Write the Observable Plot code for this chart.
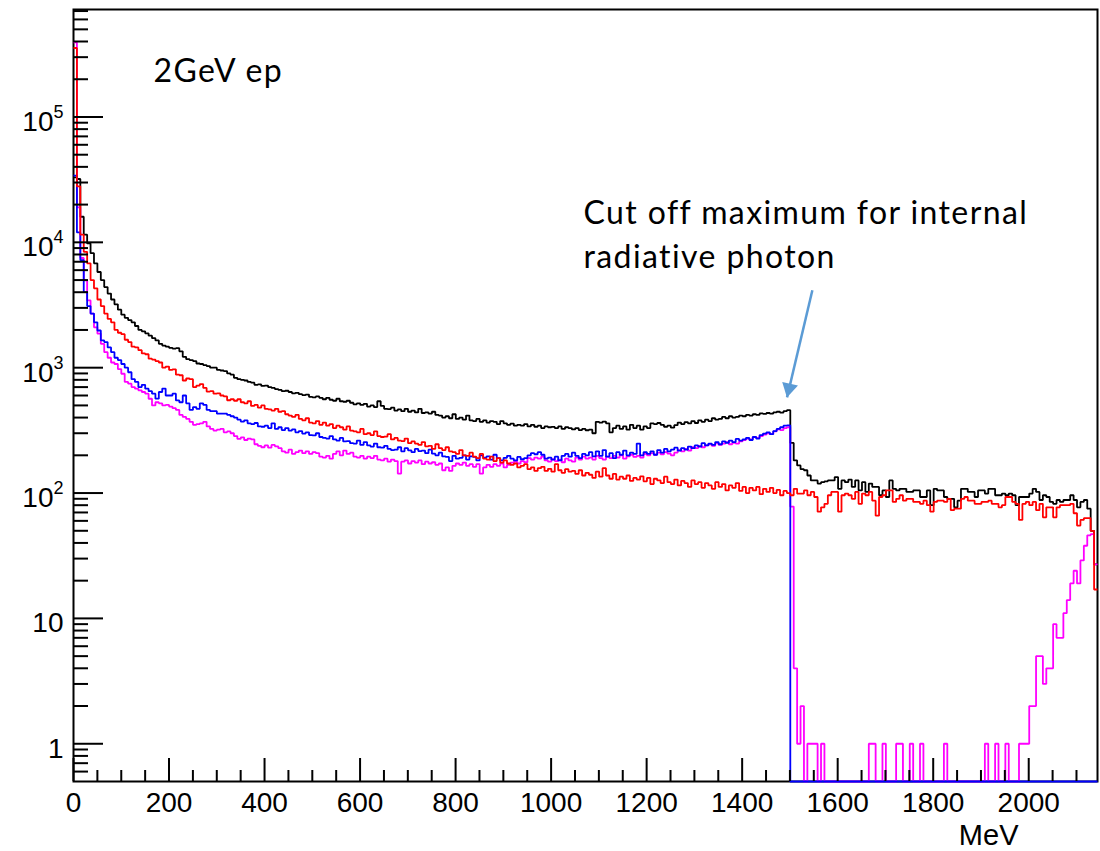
<!DOCTYPE html>
<html>
<head>
<meta charset="utf-8">
<script src="https://cdn.jsdelivr.net/npm/d3@7"></script>
<script src="https://cdn.jsdelivr.net/npm/@observablehq/plot@0.6"></script>
<style>
  html, body { margin: 0; padding: 0; background: #fff; }
  #chart svg { display: block; }
</style>
</head>
<body>
<div id="chart"></div>
<script>
// ---- axis ranges and binning (MeV, counts) ----
const xRange = [0, 2144];
const yRange = [0.5, 7.2e5];
const nBins = 300;

// ---- histogram contents, one value per bin ----
const blackCounts = [
33000,32000,16000,11500,9800,8200,6800,5800,5000,4400,
3900,3500,3200,2900,2650,2500,2400,2300,2150,2000,
1950,1880,1800,1720,1650,1550,1500,1470,1440,1420,
1430,1350,1220,1170,1150,1130,1080,1070,1050,1030,
1000,1000,960,950,940,900,880,830,810,800,
790,770,760,730,735,715,720,700,690,675,
665,650,655,640,625,630,615,605,610,585,
580,590,575,560,575,555,545,565,540,535,
545,525,510,520,505,515,490,500,485,540,
495,470,468,480,455,465,450,470,445,455,
440,470,435,440,430,445,420,415,400,410,
395,425,390,400,385,415,380,375,390,370,
380,365,375,370,355,375,360,350,358,345,
350,345,355,340,350,338,345,330,340,335,
337,330,340,325,335,330,322,330,318,325,
317,320,300,370,365,372,360,305,330,345,
325,340,320,350,330,345,320,340,330,360,
355,362,350,338,345,332,348,365,355,368,
360,375,362,380,370,385,375,395,385,390,
405,395,410,400,405,415,410,420,415,425,
420,432,428,435,430,440,445,438,450,458,
251,182,166,155,152,138,126,126,119,122,
124,126,126,134,108,126,122,128,112,126,
105,122,102,119,112,112,96,105,93,126,
108,105,108,108,102,102,105,105,93,93,
105,80,108,105,105,93,90,90,77,87,
108,108,102,102,93,105,105,99,108,108,
96,96,99,96,99,96,80,93,93,93,
99,108,102,88,96,93,85,82,88,85,
88,88,96,88,77,85,88,75,50,27
];

const redCounts = [
355000,28000,11500,8400,6800,5000,4300,3500,3100,2700,
2450,2300,2000,1900,1850,1670,1600,1470,1450,1380,
1300,1280,1180,1160,1130,1100,1000,1020,960,970,
880,870,790,820,810,700,720,740,690,645,
650,620,625,600,590,550,560,545,560,530,
520,540,495,505,480,500,470,465,455,470,
445,450,425,415,405,420,390,380,395,365,
360,375,350,365,345,355,330,345,335,320,
340,315,310,305,325,295,300,290,310,285,
280,282,295,268,275,262,260,272,250,258,
248,242,255,236,238,225,245,228,220,232,
215,212,205,220,200,198,210,195,190,205,
188,185,195,180,190,175,182,172,168,172,
160,165,170,155,160,150,158,162,150,156,
148,170,152,145,155,148,150,142,152,138,
145,140,132,148,135,158,138,130,142,128,
135,130,138,125,132,128,136,124,132,118,
130,126,120,135,122,118,128,115,125,120,
112,126,118,122,110,120,115,108,122,112,
118,105,115,110,120,104,112,100,110,105,
112,98,108,102,110,100,106,96,104,100,
96,108,99,99,105,96,102,93,71,77,
82,96,102,102,71,96,99,96,90,102,
82,99,96,102,87,66,93,96,105,105,
85,90,96,87,90,90,85,85,82,87,
80,71,85,87,87,85,90,73,75,75,
90,93,87,87,82,82,85,85,87,82,
82,77,80,93,93,85,82,61,82,85,
80,85,73,82,64,77,77,64,77,80,
80,80,82,69,55,61,63,63,50,17
];

const blueCounts = [
34000,12000,7200,4000,3100,2700,2300,1980,1650,1600,
1450,1330,1200,1150,1070,1000,920,810,770,700,
730,680,650,620,566,640,681,600,600,620,
548,530,600,520,460,485,470,520,505,460,
450,450,430,430,430,420,410,400,385,372,
380,360,355,362,340,338,345,330,360,325,
335,318,330,315,322,305,312,298,305,290,
288,300,280,275,272,285,268,262,275,258,
260,250,248,262,242,255,240,235,248,232,
230,238,225,220,222,232,215,228,219,212,
225,216,218,208,222,206,200,210,196,194,
180,198,188,191,200,185,196,194,182,200,
192,196,185,202,190,182,191,198,188,182,
194,186,190,200,208,204,212,202,188,192,
185,195,182,198,205,195,210,198,190,205,
200,212,196,215,198,220,195,208,190,212,
202,218,200,210,205,248,200,212,205,215,
202,220,210,225,215,222,230,218,228,222,
235,228,240,235,250,240,248,242,255,245,
258,252,262,255,270,262,268,275,265,280,
272,290,298,305,295,312,325,335,345,347,
0,0,0,0,0,0,0,0,0,0,
0,0,0,0,0,0,0,0,0,0,
0,0,0,0,0,0,0,0,0,0,
0,0,0,0,0,0,0,0,0,0,
0,0,0,0,0,0,0,0,0,0,
0,0,0,0,0,0,0,0,0,0,
0,0,0,0,0,0,0,0,0,0,
0,0,0,0,0,0,0,0,0,0,
0,0,0,0,0,0,0,0,0,0
];

const magentaCounts = [
393000,19000,7500,4970,3440,2700,2100,1870,1550,1330,
1200,1100,1070,975,895,770,745,700,680,660,
640,620,565,500,530,520,500,505,490,475,
460,420,405,390,370,350,355,360,370,340,
325,315,320,325,305,310,300,285,270,278,
265,272,268,245,238,232,240,230,242,236,
228,215,210,222,205,212,218,208,215,205,
212,208,195,192,198,188,205,215,200,218,
205,210,195,192,198,188,195,190,198,185,
182,188,178,185,180,143,178,182,172,180,
175,182,170,178,172,176,168,172,152,160,
150,165,172,168,175,165,170,162,170,143,
160,168,162,170,165,172,160,168,175,178,
172,180,176,190,185,192,188,195,182,178,
186,180,185,176,188,182,178,192,185,195,
188,192,185,198,190,185,195,190,198,192,
200,188,196,202,194,198,192,205,200,208,
202,210,204,212,206,200,210,220,215,225,
218,232,228,238,232,240,245,238,250,242,
248,255,245,252,248,258,265,272,268,280,
275,285,292,300,295,310,322,318,330,335,
78,4,1,2,0,1,1,1,0,1,
0,0,0,0,0,0,0,0,0,0,
0,0,0,1,1,0,0,1,0,0,
0,1,1,0,0,1,0,0,1,0,
0,0,0,0,0,1,0,0,0,0,
0,0,0,0,0,0,0,1,0,0,
1,0,0,1,0,0,0,1,1,1,
2,2,5,5,3,4,4,9,7,7,
11,14,19,24,19,29,38,46,47,27
];

// ---- tick values ----
const xMajorTicks = [0,200,400,600,800,1000,1200,1400,1600,1800,2000];
const xMinorTicks = [50,100,150,250,300,350,450,500,550,650,700,750,850,900,950,
  1050,1100,1150,1250,1300,1350,1450,1500,1550,1650,1700,1750,1850,1900,1950,2050,2100];
const yMajorTicks = [1,10,100,1000,10000,100000];
const yMinorTicks = [0.6,0.7,0.8,0.9,
  2,3,4,5,6,7,8,9,
  20,30,40,50,60,70,80,90,
  200,300,400,500,600,700,800,900,
  2000,3000,4000,5000,6000,7000,8000,9000,
  20000,30000,40000,50000,60000,70000,80000,90000,
  200000,300000,400000,500000,600000,700000];

// ---- texts and annotation ----
const xAxisTitle = "MeV";
const sampleLabel = "2GeV ep";
const noteText = "Cut off maximum for internal\nradiative photon";
const arrowTail = {x: 1547, y: 4150};
const arrowTip = {x: 1494, y: 580};

// ---- build step series ----
const binWidth = (xRange[1] - xRange[0]) / nBins;
function steps(counts) {
  const pts = counts.map((c, i) => ({x: xRange[0] + i * binWidth, y: Math.max(c, yRange[0])}));
  pts.push({x: xRange[1], y: Math.max(counts[counts.length - 1], yRange[0])});
  return pts;
}
const series = [
  {color: "#000000", counts: blackCounts},
  {color: "#ff00ff", counts: magentaCounts},
  {color: "#0000ff", counts: blueCounts},
  {color: "#ff0000", counts: redCounts}
];

const yLabelFormat = d => d < 100 ? String(d) : "10^" + Math.round(Math.log10(d));
const helv = "'Liberation Sans', Arial, Helvetica, sans-serif";
const noteFont = "Lato, 'Open Sans', sans-serif";

const plot = Plot.plot({
  width: 1100,
  height: 851,
  marginLeft: 73,
  marginRight: 3,
  marginTop: 9,
  marginBottom: 70,
  x: {domain: xRange},
  y: {type: "log", domain: yRange, clamp: true},
  style: {fontFamily: helv, fontSize: "28px", color: "black", background: "white", overflow: "visible"},
  marks: [
    Plot.frame({stroke: "black", strokeWidth: 2}),
    ...series.map(s => Plot.line(steps(s.counts), {
      x: "x", y: "y", curve: "step-after", stroke: s.color,
      strokeWidth: 1.8, strokeLinejoin: "miter", strokeLinecap: "butt"
    })),
    Plot.axisY(yMajorTicks, {tickSize: 30, dx: 30, tickFormat: () => "", strokeWidth: 2, label: null}),
    Plot.axisY(yMinorTicks, {tickSize: 15, dx: 15, tickFormat: () => "", strokeWidth: 2, label: null}),
    Plot.axisY(yMajorTicks, {tickSize: 0, tickPadding: 10, dy: 5, tickFormat: yLabelFormat,
      fontSize: 28, fontFamily: helv, label: null}),
    Plot.axisX(xMajorTicks, {tickSize: 23, dy: -23, tickFormat: () => "", strokeWidth: 2, label: null}),
    Plot.axisX(xMinorTicks, {tickSize: 11, dy: -11, tickFormat: () => "", strokeWidth: 2, label: null}),
    Plot.axisX(xMajorTicks, {tickSize: 0, tickPadding: 11, tickFormat: d => String(d),
      fontSize: 28, fontFamily: helv, label: null}),
    Plot.text([xAxisTitle], {text: d => d, frameAnchor: "bottom-right", textAnchor: "end",
      lineAnchor: "bottom", dx: -79, dy: 63, fontSize: 29, fontFamily: helv, fill: "black"}),
    Plot.text([sampleLabel], {text: d => d, frameAnchor: "top-left", textAnchor: "start",
      lineAnchor: "bottom", dx: 80, dy: 72, fontSize: 32, fontFamily: noteFont, fill: "black"}),
    Plot.text([noteText], {text: d => d, frameAnchor: "top-left", textAnchor: "start",
      lineAnchor: "bottom", dx: 510, dy: 258, lineHeight: 1.36, fontSize: 32, fontFamily: noteFont, fill: "black"}),
    Plot.link([{x1: arrowTail.x, y1: arrowTail.y, x2: arrowTip.x, y2: arrowTip.y}], {
      x1: "x1", y1: "y1", x2: "x2", y2: "y2", stroke: "#5b9bd5", strokeWidth: 2.5
    }),
    Plot.dot([arrowTip], {x: "x", y: "y", symbol: "triangle", r: 6, fill: "#5b9bd5",
      stroke: null, rotate: 193, dx: 2, dy: -9})
  ]
});

// superscript exponents on the y labels
plot.querySelectorAll('[aria-label="y-axis tick label"] text').forEach(t => {
  const s = t.textContent;
  if (s.includes("^")) {
    const [base, exp] = s.split("^");
    t.textContent = base;
    const ts = document.createElementNS("http://www.w3.org/2000/svg", "tspan");
    ts.setAttribute("dy", "-13");
    ts.setAttribute("font-size", "18");
    ts.textContent = exp;
    t.appendChild(ts);
  }
});
// wider letter spacing for the annotation texts
const noteStrings = new Set([sampleLabel, noteText.replace("\n", "")]);
plot.querySelectorAll("text").forEach(t => {
  if (noteStrings.has(t.textContent)) {
    t.setAttribute("letter-spacing", "1.4");
    t.style.letterSpacing = "1.4px";
  }
});

document.getElementById("chart").appendChild(plot);
</script>
</body>
</html>
